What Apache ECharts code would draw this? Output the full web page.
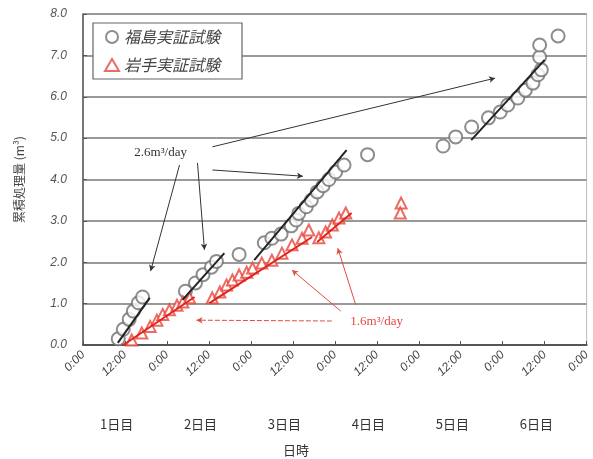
<!DOCTYPE html>
<html>
<head>
<meta charset="utf-8">
<script src="https://cdn.jsdelivr.net/npm/echarts@6/dist/echarts.min.js"></script>
<style>
  html, body { margin: 0; padding: 0; background: #fff; }
  #chart { width: 593px; height: 459px; }
</style>
</head>
<body>
<div id="chart"></div>
<script>
// Elapsed time in days from the start of day 1, cumulative volume in m3.
const fukushimaPts = [
  [0.42, 0.15], [0.48, 0.38], [0.55, 0.62], [0.60, 0.82], [0.66, 1.02], [0.71, 1.16],
  [1.22, 1.30], [1.34, 1.50], [1.43, 1.70], [1.53, 1.88], [1.59, 2.02],
  [1.86, 2.19],
  [2.16, 2.47], [2.25, 2.58], [2.36, 2.68], [2.48, 2.88], [2.54, 3.02], [2.57, 3.18],
  [2.66, 3.34], [2.72, 3.50], [2.79, 3.70], [2.86, 3.85], [2.93, 4.00], [3.01, 4.18], [3.11, 4.35],
  [3.39, 4.60],
  [4.29, 4.81], [4.44, 5.03], [4.63, 5.27], [4.83, 5.49], [4.97, 5.63], [5.06, 5.80],
  [5.18, 5.97], [5.27, 6.16], [5.36, 6.33], [5.42, 6.53], [5.46, 6.65], [5.44, 6.96],
  [5.44, 7.25], [5.66, 7.47]
];
const iwatePts = [
  [0.58, 0.12], [0.70, 0.29], [0.80, 0.45], [0.88, 0.60], [0.95, 0.74], [1.03, 0.85],
  [1.12, 0.96], [1.19, 1.04], [1.27, 1.14],
  [1.54, 1.14], [1.63, 1.28], [1.71, 1.45], [1.78, 1.57], [1.86, 1.69], [1.95, 1.76],
  [2.02, 1.86], [2.13, 1.98], [2.25, 2.05], [2.37, 2.22], [2.49, 2.42], [2.61, 2.58], [2.69, 2.78],
  [2.81, 2.59], [2.89, 2.73], [2.97, 2.90], [3.05, 3.07], [3.13, 3.19],
  [3.79, 3.43], [3.78, 3.19]
];

// Fitted rate lines (start/end points)
const fukushimaFits = [
  [[0.415, 0.05], [0.795, 1.14]],
  [[1.186, 1.09], [1.684, 2.22]],
  [[2.04, 2.05], [3.14, 4.71]],
  [[4.625, 4.95], [5.50, 6.89]]
];
const iwateFits = [
  [[0.48, 0.00], [1.33, 1.16]],
  [[1.506, 1.01], [2.73, 2.61]],
  [[2.79, 2.49], [3.20, 3.19]]
];

// Callouts: text anchor and arrows (tail -> head) in data units
const rateFukushima = { text: '2.6m³/day', at: [0.925, 4.66] };
const rateFukushimaArrows = [
  [[1.15, 4.35], [0.806, 1.79]],
  [[1.364, 4.40], [1.447, 2.30]],
  [[1.542, 4.23], [2.62, 4.08]],
  [[1.542, 4.79], [4.909, 6.45]]
];
const rateIwate = { text: '1.6m³/day', at: [3.498, 0.556] };
const rateIwateArrows = [
  [[2.965, 0.58], [1.352, 0.60]],
  [[3.071, 0.82], [2.49, 1.81]],
  [[3.249, 0.97], [3.036, 2.34]]
];

const timeLabels = ['0:00', '12:00'];
const dayLabels = ['1日目', '2日目', '3日目', '4日目', '5日目', '6日目'];
const seriesNames = ['福島実証試験', '岩手実証試験'];
const yTitle = '累積処理量 (m³)';
const xTitle = '日時';

const BLACK = '#222';
const RED = '#e2231a';
const JP = '"Noto Sans CJK JP", sans-serif';

const chart = echarts.init(document.getElementById('chart'));

function fitSeries(segs, color) {
  return segs.map(seg => ({
    type: 'line', data: seg, symbol: 'none', silent: true, z: 3,
    lineStyle: { color: color, width: 2 }
  }));
}

function arrowLines(list, dashedFirst) {
  return list.map((a, i) => {
    const dashed = dashedFirst && i === 0;
    return [
      { coord: a[0], lineStyle: { type: dashed ? [5, 2] : 'solid' } },
      { coord: a[1] }
    ];
  });
}

const option = {
  animation: false,
  grid: { left: 83, right: 4, top: 14, bottom: 114, show: true, borderColor: '#bbb', borderWidth: 1 },
  legend: {
    data: seriesNames,
    left: 93, top: 23, orient: 'vertical',
    backgroundColor: '#fff',
    borderColor: '#666', borderWidth: 1.2,
    padding: [6, 22, 6, 11],
    itemWidth: 14, itemHeight: 12, itemGap: 12,
    textStyle: { fontFamily: JP, fontSize: 16, fontStyle: 'italic', color: '#444' }
  },
  xAxis: {
    type: 'value', min: 0, max: 6, interval: 0.5,
    axisLine: { lineStyle: { color: '#555', width: 2 } },
    axisTick: { inside: true, length: 4, lineStyle: { color: '#555' } },
    splitLine: { show: false },
    axisLabel: {
      rotate: 45, margin: 8,
      fontFamily: 'Liberation Sans', fontStyle: 'italic', fontSize: 12, color: '#444',
      formatter: v => timeLabels[Math.round(v * 2) % 2]
    }
  },
  yAxis: {
    type: 'value', min: 0, max: 8, interval: 1,
    name: yTitle, nameLocation: 'middle', nameRotate: 90, nameGap: 58,
    nameTextStyle: { fontFamily: JP, fontSize: 12, color: '#444' },
    axisLine: { show: true, lineStyle: { color: '#555', width: 1.5 } },
    axisTick: { show: true, inside: true, length: 4, lineStyle: { color: '#555' } },
    splitLine: { lineStyle: { color: '#999', width: 2 } },
    axisLabel: {
      margin: 16,
      fontFamily: 'Liberation Sans', fontStyle: 'italic', fontSize: 12, color: '#555',
      formatter: v => v.toFixed(1)
    }
  },
  series: [
    ...fitSeries(fukushimaFits, BLACK),
    ...fitSeries(iwateFits, RED),
    {
      name: seriesNames[0], type: 'scatter', data: fukushimaPts, z: 2,
      symbol: 'emptyCircle', symbolSize: 13,
      itemStyle: { color: '#707070', borderColor: '#707070', borderWidth: 1.2 },
      markLine: {
        silent: true, symbol: ['none', 'arrow'], symbolSize: [5, 6],
        label: { show: false },
        lineStyle: { color: '#333', width: 1, type: 'solid' },
        data: arrowLines(rateFukushimaArrows, false)
      }
    },
    {
      name: seriesNames[1], type: 'scatter', data: iwatePts, z: 2,
      symbol: 'emptyTriangle', symbolSize: 11,
      itemStyle: { color: '#e8463c', borderColor: '#e8463c', borderWidth: 1.2 },
      markLine: {
        silent: true, symbol: ['none', 'arrow'], symbolSize: [5, 6],
        label: { show: false },
        lineStyle: { color: '#e34a40', width: 1, type: 'solid' },
        data: arrowLines(rateIwateArrows, true)
      }
    }
  ]
};

chart.setOption(option);

// Text overlays positioned through the axes
const px = p => chart.convertToPixel({ gridIndex: 0 }, p);
const graphics = [];
const pF = px(rateFukushima.at);
graphics.push({
  type: 'text', x: pF[0], y: pF[1], z: 10,
  style: { text: rateFukushima.text, fill: '#333', font: '13px "Liberation Serif", serif',
           align: 'center', verticalAlign: 'middle', backgroundColor: '#fff' }
});
const pI = px(rateIwate.at);
graphics.push({
  type: 'text', x: pI[0], y: pI[1], z: 10,
  style: { text: rateIwate.text, fill: '#e34a40', font: '13px "Liberation Serif", serif',
           align: 'center', verticalAlign: 'middle', backgroundColor: '#fff' }
});
dayLabels.forEach((t, i) => {
  const p = px([i + 0.4, 0]);
  graphics.push({
    type: 'text', x: p[0], y: 424, z: 10,
    style: { text: t, fill: '#333', font: '13px ' + JP, align: 'center', verticalAlign: 'middle' }
  });
});
graphics.push({
  type: 'text', x: 296, y: 450, z: 10,
  style: { text: xTitle, fill: '#333', font: '13px ' + JP, align: 'center', verticalAlign: 'middle' }
});
chart.setOption({ graphic: graphics });
</script>
</body>
</html>
